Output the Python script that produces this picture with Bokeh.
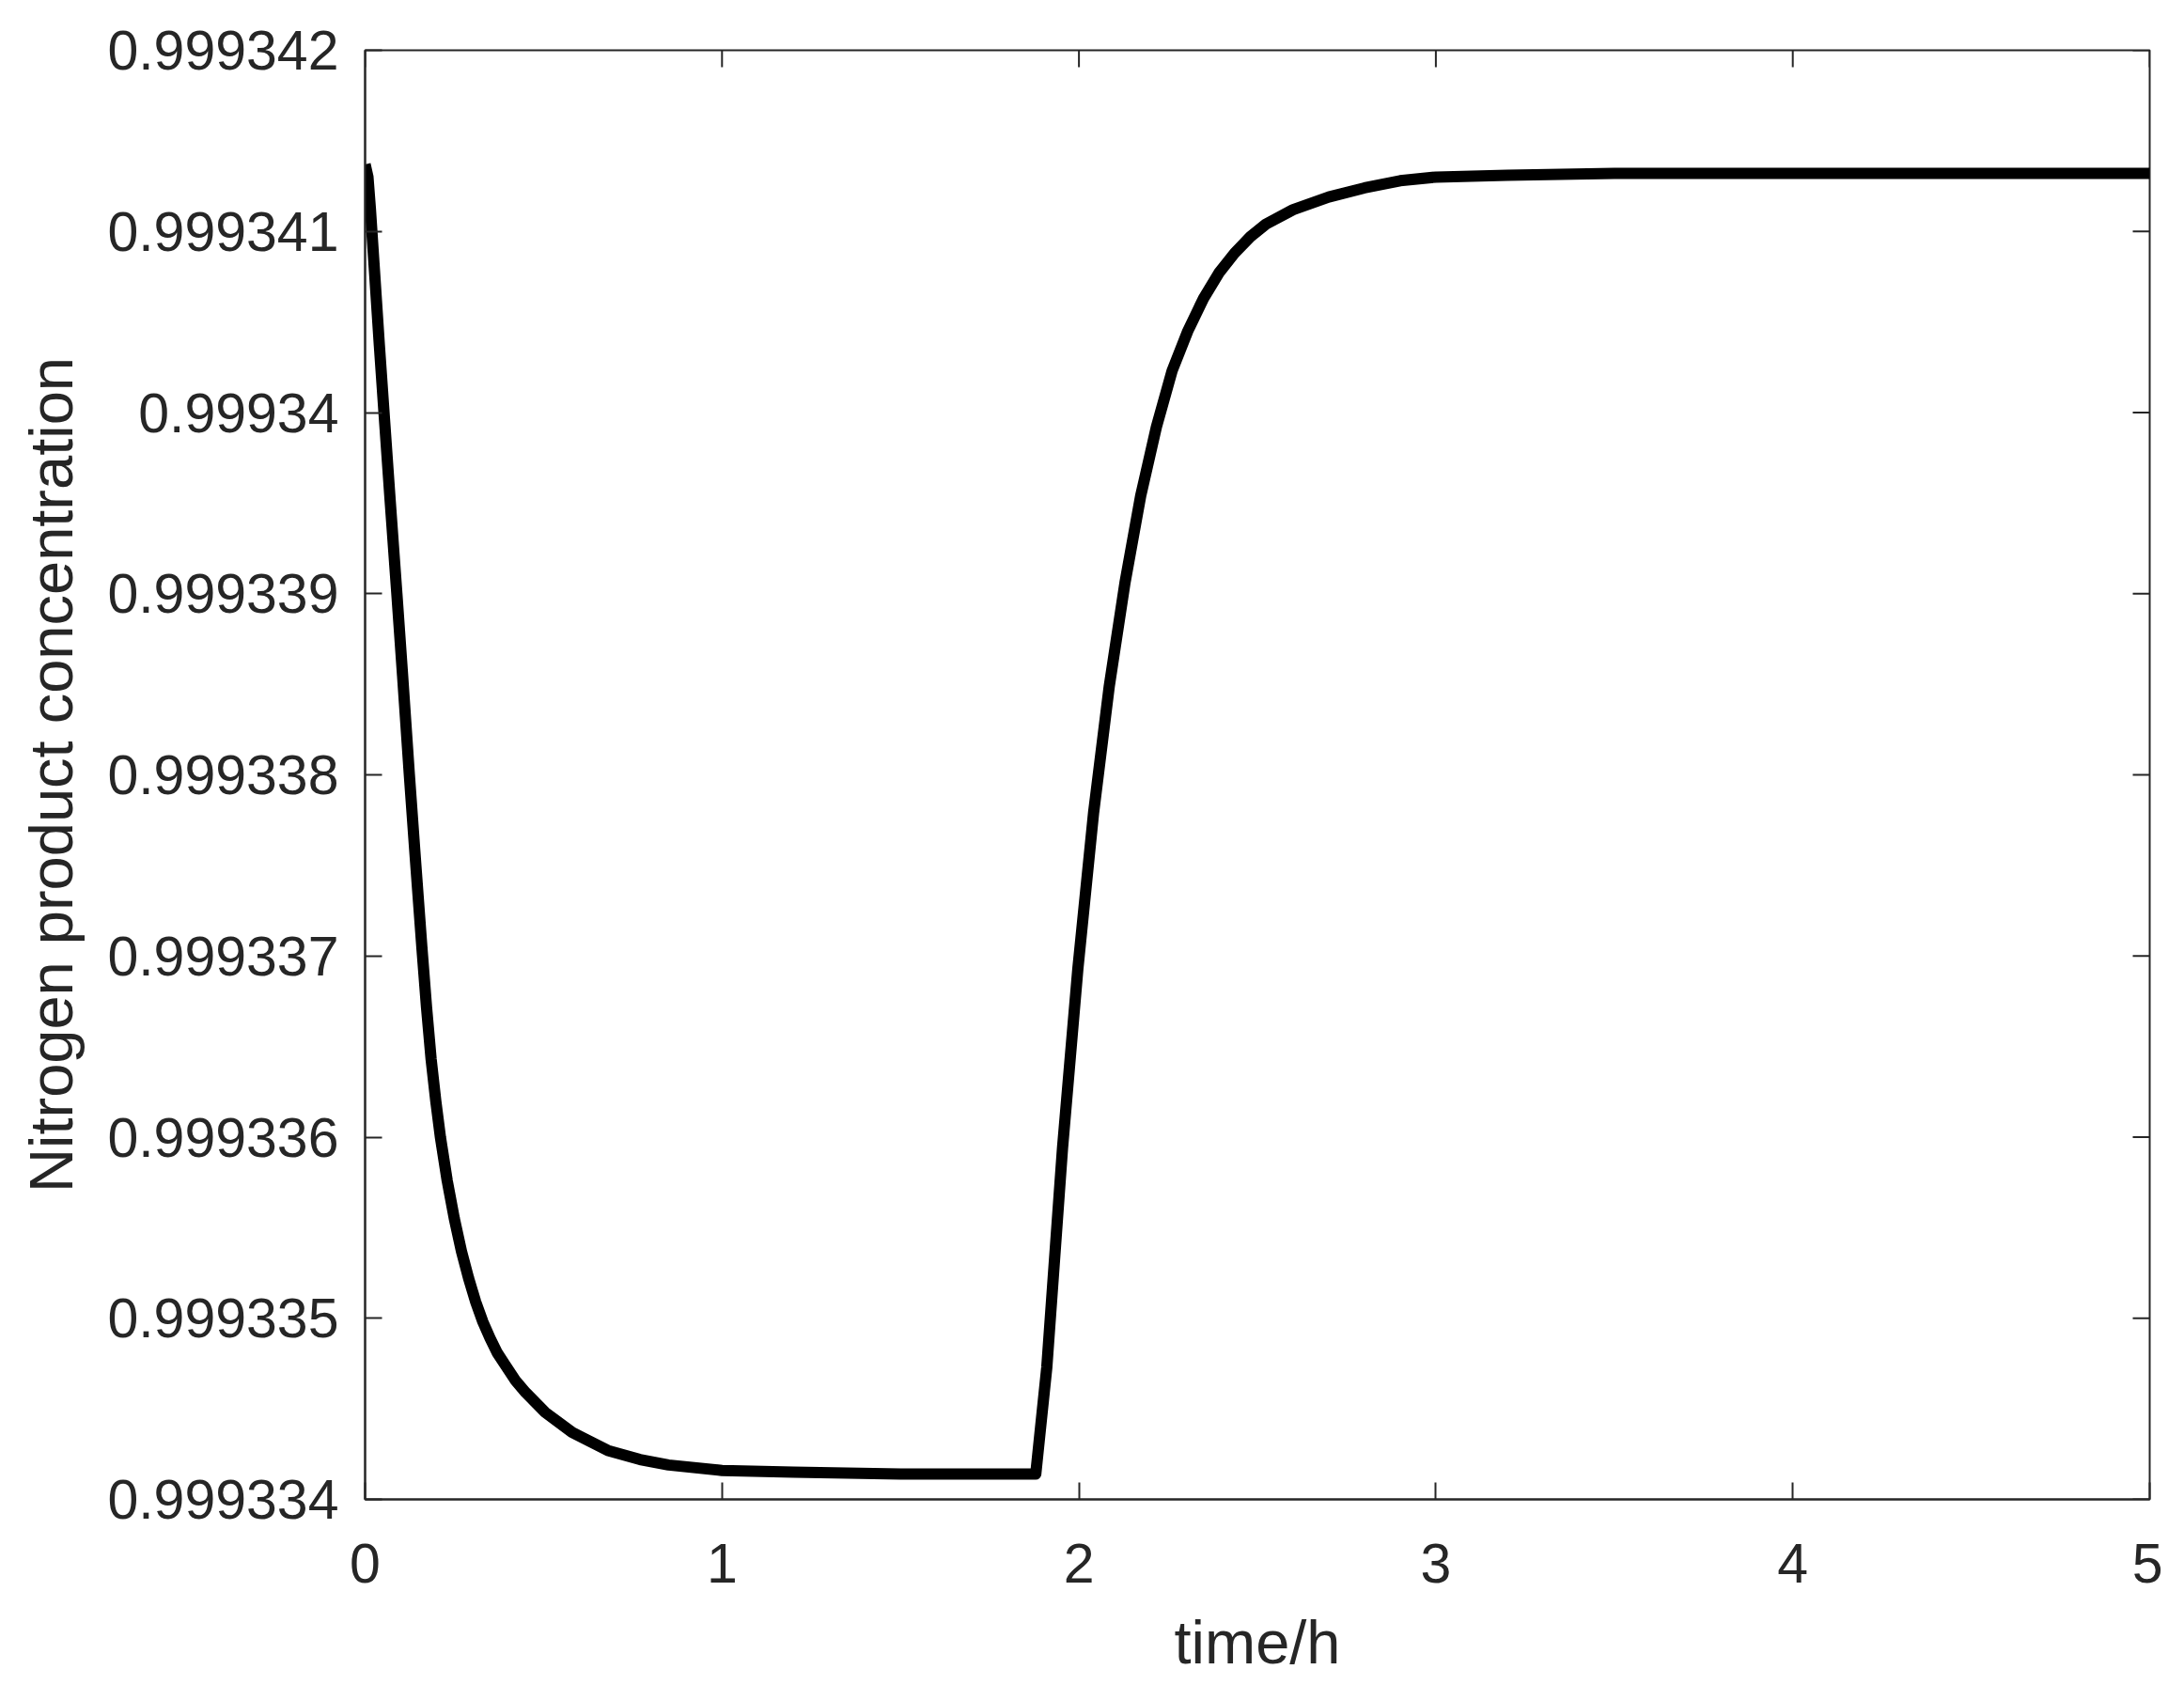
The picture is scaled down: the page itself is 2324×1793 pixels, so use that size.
import math
from bokeh.plotting import figure
from bokeh.models import FixedTicker, CustomJSTickFormatter, Range1d
from bokeh.embed import file_html
from bokeh.resources import INLINE

# ---- data ----
time_h = [0.0, 0.008, 0.015, 0.025, 0.04, 0.053, 0.07, 0.089, 0.105, 0.124, 0.14,
          0.159, 0.172, 0.185, 0.198, 0.211, 0.23, 0.25, 0.27, 0.29, 0.31, 0.33,
          0.35, 0.37, 0.39, 0.42, 0.45, 0.505, 0.58, 0.68, 0.77, 0.85, 1.0, 1.2,
          1.5, 1.879, 1.91, 1.954, 1.997, 2.041, 2.085, 2.129, 2.173, 2.217,
          2.261, 2.305, 2.349, 2.392, 2.436, 2.48, 2.524, 2.6, 2.7, 2.8, 2.9,
          3.0, 3.2, 3.5, 4.0, 4.5, 5.0]
conc = [0.99934137, 0.9993413, 0.99934112, 0.99934082, 0.99934037, 0.99934,
        0.99933952, 0.999339, 0.99933855, 0.999338, 0.99933756, 0.99933705,
        0.99933672, 0.99933643, 0.9993362, 0.999336, 0.99933576, 0.99933555,
        0.99933537, 0.99933522, 0.99933509, 0.99933498, 0.99933489, 0.99933481,
        0.99933475, 0.99933466, 0.99933459, 0.99933448, 0.99933437, 0.99933427,
        0.99933422, 0.99933419, 0.99933416, 0.99933415, 0.99933414, 0.99933414,
        0.99933473, 0.99933594, 0.99933693, 0.99933779, 0.99933849, 0.99933906,
        0.99933954, 0.99933992, 0.99934023, 0.99934045, 0.99934063, 0.99934077,
        0.99934088, 0.99934097, 0.99934104, 0.99934112, 0.99934119, 0.99934124,
        0.99934128, 0.9993413, 0.99934131, 0.99934132, 0.99934132, 0.99934132,
        0.99934132]
x_ticks = [0, 1, 2, 3, 4, 5]
y_ticks = [0.999334, 0.999335, 0.999336, 0.999337, 0.999338, 0.999339,
           0.99934, 0.999341, 0.999342]
x_label = "time/h"
y_label = "Nitrogen product concentration"

FONT = "Liberation Sans"
DARK = "#262626"

x_min, x_max = x_ticks[0], x_ticks[-1]
y_min, y_max = y_ticks[0], y_ticks[-1]

p = figure(frame_width=1899, frame_height=1542,
           x_range=Range1d(x_min, x_max), y_range=Range1d(y_min, y_max),
           output_backend="svg", toolbar_location=None,
           min_border_left=388, min_border_right=14,
           min_border_top=53, min_border_bottom=183,
           background_fill_color="white", border_fill_color="white")
p.outline_line_color = DARK
p.outline_line_width = 2
p.grid.visible = False

fmt = CustomJSTickFormatter(code="return parseFloat(tick.toFixed(6)).toString();")

p.xaxis.ticker = FixedTicker(ticks=x_ticks)
p.yaxis.ticker = FixedTicker(ticks=y_ticks)
p.yaxis.formatter = fmt

for ax in p.axis:
    ax.axis_line_color = DARK
    ax.axis_line_width = 2
    ax.major_tick_line_color = DARK
    ax.major_tick_line_width = 2
    ax.major_tick_in = 18
    ax.major_tick_out = 0
    ax.minor_tick_line_color = None
    ax.major_label_text_font = FONT
    ax.major_label_text_color = DARK
    ax.major_label_text_font_size = "59px"
    ax.axis_label_text_font = FONT
    ax.axis_label_text_font_size = "65px"
    ax.axis_label_text_font_style = "normal"
    ax.axis_label_text_color = DARK

p.xaxis.axis_label = x_label
p.xaxis.major_label_standoff = 47
p.xaxis.axis_label_standoff = 24
p.yaxis.axis_label = y_label
p.yaxis.major_label_standoff = 28
p.yaxis.axis_label_standoff = 20

# mirrored inward ticks on the top and right edges
p.ray(x=x_ticks, y=[y_max] * len(x_ticks), length=18, length_units="screen",
      angle=-math.pi / 2, line_color=DARK, line_width=2)
p.ray(x=[x_max] * len(y_ticks), y=y_ticks, length=18, length_units="screen",
      angle=math.pi, line_color=DARK, line_width=2)

p.line(time_h, conc, line_width=12, line_color="black",
       line_join="round", line_cap="butt")

open("out.html", "w").write(file_html(p, INLINE))
